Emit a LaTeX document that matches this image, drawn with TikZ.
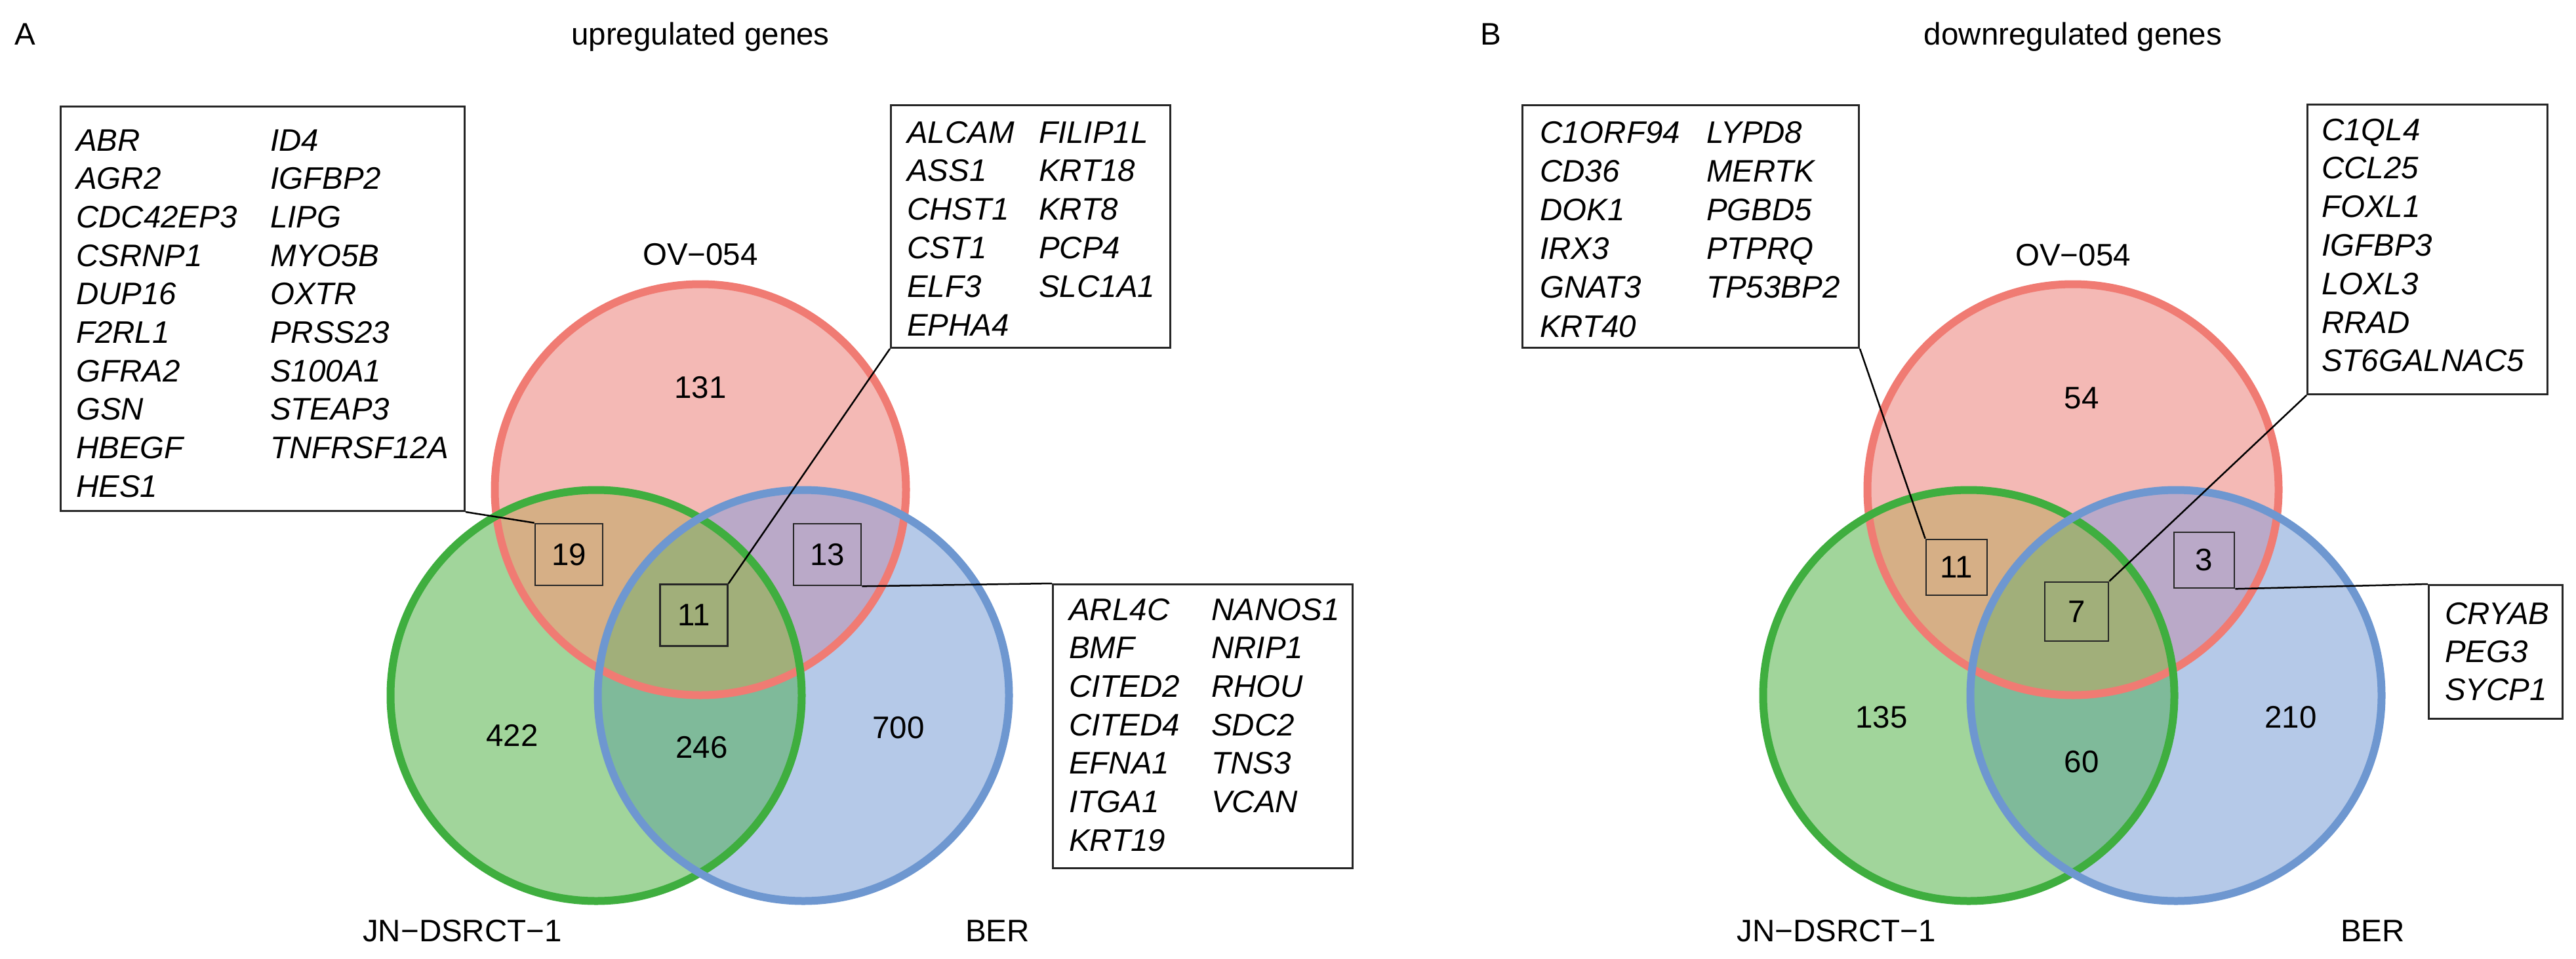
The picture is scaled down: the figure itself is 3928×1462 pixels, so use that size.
\documentclass[tikz,border=0pt]{standalone}
\usepackage{fontspec}
\setmainfont{Liberation Sans}
\definecolor{redfill}{HTML}{F4B9B5}
\definecolor{greenfill}{HTML}{A1D59B}
\definecolor{bluefill}{HTML}{B5C9E8}
\definecolor{rgfill}{HTML}{D6AF86}
\definecolor{rbfill}{HTML}{BAA9C8}
\definecolor{gbfill}{HTML}{7FBA9A}
\definecolor{rgbfill}{HTML}{A1AF7A}
\definecolor{redline}{HTML}{F07B73}
\definecolor{greenline}{HTML}{3FAE3F}
\definecolor{blueline}{HTML}{6E97D0}
\tikzset{
  txt/.style={inner sep=0pt, font=\fontsize{47.5}{58.7}\selectfont},
  lab/.style={txt, anchor=base},
  gene/.style={txt, anchor=base west, font=\fontsize{47.5}{58.7}\selectfont\itshape},
  genebox/.style={draw=black!85, line width=3pt, anchor=north west, inner sep=0pt},
  numbox/.style={txt, draw=black!85, line width=2.7pt},
  conn/.style={draw=black, line width=2.5pt},
  vline/.style={line width=12pt}
}
\newcommand{\myvenn}[1]{%
  \begin{scope}[shift={(#1,0)}]
    \fill[redfill] (1068,747) circle (313.5);
    \fill[greenfill] (909,1061) circle (313.5);
    \fill[bluefill] (1225,1061) circle (313.5);
    \begin{scope}
      \clip (1068,747) circle (313.5);
      \fill[rgfill] (909,1061) circle (313.5);
      \fill[rbfill] (1225,1061) circle (313.5);
    \end{scope}
    \begin{scope}
      \clip (909,1061) circle (313.5);
      \fill[gbfill] (1225,1061) circle (313.5);
    \end{scope}
    \begin{scope}
      \clip (1068,747) circle (313.5);
      \clip (909,1061) circle (313.5);
      \fill[rgbfill] (1225,1061) circle (313.5);
    \end{scope}
    \draw[vline, redline] (1068,747) circle (313.5);
    \draw[vline, greenline] (909,1061) circle (313.5);
    \draw[vline, blueline] (1225,1061) circle (313.5);
  \end{scope}}
\begin{document}
\begin{tikzpicture}[x=1pt, y=-1pt]
\useasboundingbox[fill=white] (0,0) rectangle (3928,1462);

% ---------------- Panel A ----------------
\myvenn{0}
\node[txt, anchor=base west] (letA) at (22,68) {A};
\node[lab] (titleA) at (1068,68) {upregulated genes};
\node[lab] (ovA) at (1068,404) {OV−054};
\node[lab] (jnA) at (705,1436) {JN−DSRCT−1};
\node[lab] (berA) at (1521,1436) {BER};

\node[lab] (nA131) at (1068,607) {131};
\node[lab] (nA422) at (781,1138) {422};
\node[lab] (nA246) at (1070,1156) {246};
\node[lab] (nA700) at (1370,1126) {700};
\node[numbox, minimum width=103pt, minimum height=94pt] (bA19) at (867.5,846) {19};
\node[numbox, minimum width=103pt, minimum height=94pt] (bA13) at (1261.5,846) {13};
\node[numbox, minimum width=103pt, minimum height=94pt] (bA11) at (1058,938.5) {11};

\node[genebox, minimum width=616pt, minimum height=617pt] (gbAL) at (91,161) {};
\foreach \g [count=\i from 0] in {ABR,AGR2,CDC42EP3,CSRNP1,DUP16,F2RL1,GFRA2,GSN,HBEGF,HES1}
  \node[gene] (gAL1-\i) at (116,{230+\i*58.7}) {\g};
\foreach \g [count=\i from 0] in {ID4,IGFBP2,LIPG,MYO5B,OXTR,PRSS23,S100A1,STEAP3,TNFRSF12A}
  \node[gene] (gAL2-\i) at (412,{230+\i*58.7}) {\g};

\node[genebox, minimum width=426pt, minimum height=370pt] (gbAR) at (1357,159) {};
\foreach \g [count=\i from 0] in {ALCAM,ASS1,CHST1,CST1,ELF3,EPHA4}
  \node[gene] (gAR1-\i) at (1383,{218+\i*58.8}) {\g};
\foreach \g [count=\i from 0] in {FILIP1L,KRT18,KRT8,PCP4,SLC1A1}
  \node[gene] (gAR2-\i) at (1584,{218+\i*58.8}) {\g};

\node[genebox, minimum width=457pt, minimum height=433pt] (gbAB) at (1604,890) {};
\foreach \g [count=\i from 0] in {ARL4C,BMF,CITED2,CITED4,EFNA1,ITGA1,KRT19}
  \node[gene] (gAB1-\i) at (1630,{946+\i*58.7}) {\g};
\foreach \g [count=\i from 0] in {NANOS1,NRIP1,RHOU,SDC2,TNS3,VCAN}
  \node[gene] (gAB2-\i) at (1847,{946+\i*58.7}) {\g};

\draw[conn] (gbAL.south east) -- (bA19.north west);
\draw[conn] (gbAR.south west) -- (bA11.north east);
\draw[conn] (bA13.south east) -- (gbAB.north west);

% ---------------- Panel B ----------------
\myvenn{2093}
\node[txt, anchor=base west] (letB) at (2257,68) {B};
\node[lab] (titleB) at (3161,68) {downregulated genes};
\node[lab] (ovB) at (3161,405) {OV−054};
\node[lab] (jnB) at (2800,1436) {JN−DSRCT−1};
\node[lab] (berB) at (3618,1436) {BER};

\node[lab] (nB54) at (3174,623) {54};
\node[lab] (nB135) at (2869,1110) {135};
\node[lab] (nB60) at (3174,1178) {60};
\node[lab] (nB210) at (3493,1110) {210};
\node[numbox, minimum width=93pt, minimum height=85pt] (bB11) at (2983.5,865.5) {11};
\node[numbox, minimum width=97pt, minimum height=90pt] (bB7) at (3166.5,933) {7};
\node[numbox, minimum width=92pt, minimum height=85pt] (bB3) at (3361,854.5) {3};

\node[genebox, minimum width=513pt, minimum height=370pt] (gbBL) at (2320,159) {};
\foreach \g [count=\i from 0] in {C1ORF94,CD36,DOK1,IRX3,GNAT3,KRT40}
  \node[gene] (gBL1-\i) at (2348,{218+\i*59.2}) {\g};
\foreach \g [count=\i from 0] in {LYPD8,MERTK,PGBD5,PTPRQ,TP53BP2}
  \node[gene] (gBL2-\i) at (2602,{218+\i*59.2}) {\g};

\node[genebox, minimum width=366pt, minimum height=442pt] (gbBR) at (3517,158) {};
\foreach \g [count=\i from 0] in {C1QL4,CCL25,FOXL1,IGFBP3,LOXL3,RRAD,ST6GALNAC5}
  \node[gene] (gBR-\i) at (3540,{214+\i*58.8}) {\g};

\node[genebox, minimum width=204pt, minimum height=204pt] (gbBC) at (3702,891) {};
\foreach \g [count=\i from 0] in {CRYAB,PEG3,SYCP1}
  \node[gene] (gBC-\i) at (3728,{952+\i*58}) {\g};

\draw[conn] (gbBL.south east) -- (bB11.north west);
\draw[conn] (bB7.north east) -- (gbBR.south west);
\draw[conn] (bB3.south east) -- (gbBC.north west);
\end{tikzpicture}
\end{document}
